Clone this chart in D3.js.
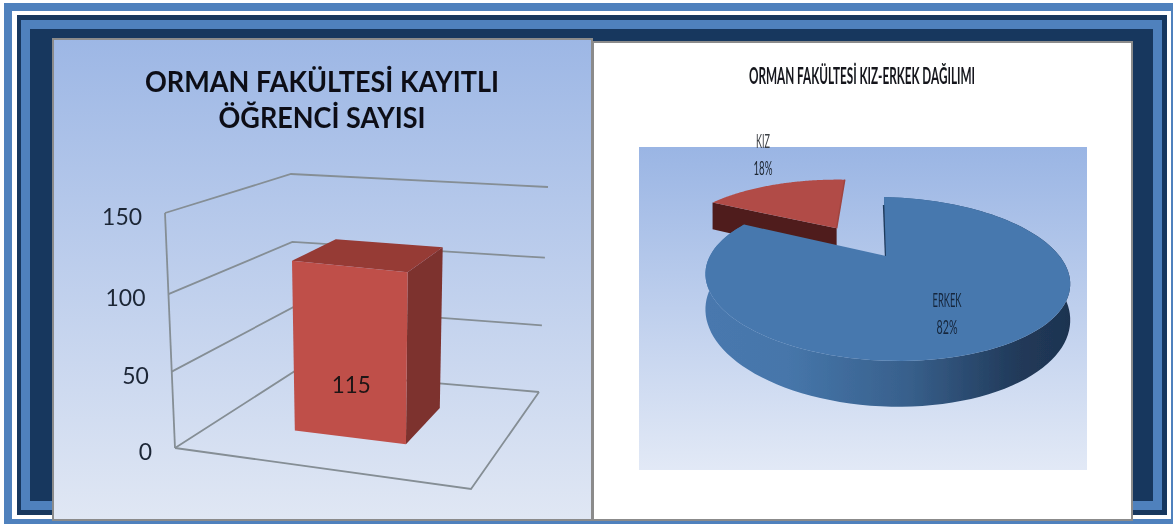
<!DOCTYPE html>
<html><head><meta charset="utf-8">
<style>html,body{margin:0;padding:0;background:#fff}svg{display:block}text{font-family:Lato,"Open Sans",sans-serif}</style>
<script src="https://cdn.jsdelivr.net/npm/d3@7"></script>
</head><body>
<script>
// ---- data ----
const barTitle = ["ORMAN FAKÜLTESİ KAYITLI", "ÖĞRENCİ SAYISI"];
const barCategories = ["Kayıtlı Öğrenci"];
const barSeries = ["Öğrenci Sayısı"];
const barValues = [115];
const yTicks = [0, 50, 100, 150];
const pieTitle = "ORMAN FAKÜLTESİ KIZ-ERKEK DAĞILIMI";
const pieLabels = ["ERKEK", "KIZ"];
const pieValues = [82, 18];

// ---- layout ----
const W = 1173, H = 525;
const svg = d3.select("body").append("svg").attr("width", W).attr("height", H);
const defs = svg.append("defs");
function vGrad(id, a, b) {
  const g = defs.append("linearGradient").attr("id", id).attr("x1", 0).attr("x2", 0).attr("y1", 0).attr("y2", 1);
  g.append("stop").attr("offset", 0).attr("stop-color", a);
  g.append("stop").attr("offset", 1).attr("stop-color", b);
}
vGrad("panelGrad", "#9db7e5", "#e0e7f4");
vGrad("plotGrad", "#9ab5e4", "#e2e9f6");
defs.append("filter").attr("id", "soft").append("feGaussianBlur").attr("stdDeviation", 0.4);
const side = defs.append("linearGradient").attr("id", "sideGrad").attr("gradientUnits", "userSpaceOnUse")
  .attr("x1", 707).attr("x2", 1071).attr("y1", 0).attr("y2", 0);
[[0, "#4878ae"], [0.22, "#4676aa"], [0.55, "#38608c"], [0.85, "#213a5a"], [1, "#1e3350"]].forEach(s =>
  side.append("stop").attr("offset", s[0]).attr("stop-color", s[1]));

// frame
const frame = [
  [4, 3, 1173, 524, "#4f81bd"], [12, 11, 1171, 519, "#ffffff"], [17, 15, 1167, 515, "#17375e"],
  [21, 20, 1162, 510, "#4f81bd"], [30, 29, 1153, 501, "#17375e"]
];
svg.append("g").selectAll("rect").data(frame).join("rect")
  .attr("x", d => d[0]).attr("y", d => d[1]).attr("width", d => d[2] - d[0]).attr("height", d => d[3] - d[1])
  .attr("fill", d => d[4]);

// panels
svg.append("rect").attr("x", 53).attr("y", 39).attr("width", 539).attr("height", 481)
  .attr("fill", "url(#panelGrad)").attr("stroke", "#8b8b8b").attr("stroke-width", 2);
svg.append("rect").attr("x", 593).attr("y", 42).attr("width", 539).attr("height", 478)
  .attr("fill", "#fff").attr("stroke", "#8b8b8b").attr("stroke-width", 2);
svg.append("rect").attr("x", 639).attr("y", 147).attr("width", 448).attr("height", 323).attr("fill", "url(#plotGrad)");

const poly = d3.line().curve(d3.curveLinearClosed);
const open = d3.line();

function txt(g, s, x, y, size, len, fill, weight, anchor) {
  return g.append("text").attr("x", x).attr("y", y).attr("font-size", size).attr("font-weight", weight || 400)
    .attr("fill", fill).attr("text-anchor", anchor || "middle")
    .attr("textLength", len).attr("lengthAdjust", "spacingAndGlyphs").text(s);
}

// ---- 3D column chart ----
const corners = {
  lo: { FL: [175, 448], FR: [471, 489], BL: [295, 371], BR: [539, 392] },
  hi: { FL: [165, 213], FR: [477, 247], BL: [291, 174], BR: [548, 187] }
};
const yT = d3.scaleLinear().domain(yTicks).range([0, 0.325, 0.655, 1]);
const uScale = d3.scaleBand().domain(barCategories).range([0, 1]).paddingInner(0).paddingOuter(0.75).align(0.467);
const dScale = d3.scaleBand().domain(barSeries).range([0, 1]).paddingInner(0).paddingOuter(0.75).align(0.583);
const mix = (a, b, t) => [a[0] + (b[0] - a[0]) * t, a[1] + (b[1] - a[1]) * t];
function plane(c, u, d) { return mix(mix(c.FL, c.FR, u), mix(c.BL, c.BR, u), d); }
function p3(u, d, v) { return mix(plane(corners.lo, u, d), plane(corners.hi, u, d), yT(v)); }

const gBar = svg.append("g").attr("filter", "url(#soft)");
const gridColor = "#858e95";
const gridWidth = 1.8;
const vMax = d3.max(yTicks);
gBar.selectAll(".grid").data(yTicks).join("path").attr("class", "grid")
  .attr("d", v => open([p3(0, 0, v), p3(0, 1, v), p3(1, 1, v)]))
  .attr("fill", "none").attr("stroke", gridColor).attr("stroke-width", gridWidth);
gBar.append("path").attr("d", open([p3(0, 0, 0), p3(0, 0, vMax)])).attr("fill", "none").attr("stroke", gridColor).attr("stroke-width", gridWidth);
gBar.append("path").attr("d", open([p3(0, 0, 0), p3(1, 0, 0), p3(1, 1, 0)])).attr("fill", "none").attr("stroke", gridColor).attr("stroke-width", gridWidth);

const u0 = uScale(barCategories[0]), u1 = u0 + uScale.bandwidth();
const d0 = dScale(barSeries[0]), d1 = d0 + dScale.bandwidth();
barValues.forEach(v => {
  gBar.append("path").attr("d", poly([p3(u1, d0, 0), p3(u1, d1, 0), p3(u1, d1, v), p3(u1, d0, v)])).attr("fill", "#7d302d");
  gBar.append("path").attr("d", poly([p3(u0, d0, v), p3(u1, d0, v), p3(u1, d1, v), p3(u0, d1, v)])).attr("fill", "#963a36");
  gBar.append("path").attr("d", poly([p3(u0, d0, 0), p3(u1, d0, 0), p3(u1, d0, v), p3(u0, d0, v)])).attr("fill", "#bf4f4a");
  const c = p3((u0 + u1) / 2, d0, v * 0.22);
  txt(gBar, String(v), c[0] + 1, 393, 24, 39, "#1f1414");
});
yTicks.forEach(v => {
  const p = p3(0, 0, v);
  txt(gBar, String(v), p[0] - 23, p[1] + 12, 23, String(v).length * 13.3, "#1c2636", 400, "end");
});
txt(gBar, barTitle[0], 322, 92, 28, 354, "#0a0f18", 700);
txt(gBar, barTitle[1], 322, 128, 28, 207, "#0a0f18", 700);

// ---- 3D pie chart ----
const gPie = svg.append("g").attr("filter", "url(#soft)");
txt(gPie, pieTitle, 862, 84, 22, 226, "#14161c", 700);

const P = { cx: 886, cy: 256, a: 175, b: 75.5, k: 0.28, q: 6, sh: 2, h: 33 };
function proj(px, py, lift) {
  const w = 1 - P.k * py;
  return [P.cx + P.a * px / w + P.q * py / w, P.cy + P.b * py / w + P.sh * px / w + (lift || 0) / w];
}
const explode = [[0, 0], [-0.3, -0.4]];
const arcs = d3.pie().sort(null).startAngle(0.02).endAngle(0.02 + 2 * Math.PI)(pieValues);
const slices = arcs.map((s, i) => {
  const [ox, oy] = explode[i];
  const n = 120;
  const angles = d3.range(n + 1).map(j => s.startAngle + (s.endAngle - s.startAngle) * j / n);
  const rim = lift => angles.map(t => proj(ox + Math.sin(t), oy - Math.cos(t), lift));
  return { i, apex: l => proj(ox, oy, l), rim };
});
const [erkek, kiz] = slices;

// KIZ: exploded slice, cut face first, then top
const kizRim = kiz.rim(0);
gPie.append("path").attr("d", poly([kizRim[0], kiz.apex(0), kiz.apex(P.h), kiz.rim(P.h)[0]])).attr("fill", "#4f1e1b");
gPie.append("path").attr("d", poly([kiz.apex(0), ...kizRim])).attr("fill", "#b14c46");
gPie.append("path").attr("d", open([kiz.apex(0), kizRim[kizRim.length - 1]])).attr("fill", "none").attr("stroke", "#a04440").attr("stroke-width", 1.5);

// ERKEK: wall, thin cut face, then top
const eTop = erkek.rim(0), eBottom = erkek.rim(P.h);
gPie.append("path").attr("d", poly([...eTop, ...eBottom.slice().reverse()])).attr("fill", "url(#sideGrad)");
gPie.append("path").attr("d", open([[eTop[0][0], eTop[0][1] + 8], erkek.apex(0)])).attr("fill", "none").attr("stroke", "#1f3a5c").attr("stroke-width", 2.4);
gPie.append("path").attr("d", poly([erkek.apex(0), ...eTop])).attr("fill", "#4778ae");

// labels
txt(gPie, pieLabels[1], 763, 148, 20, 14, "#3b3f45");
txt(gPie, pieValues[1] + "%", 763, 175, 19, 19, "#1c2530");
txt(gPie, pieLabels[0], 947, 307, 19, 29, "#16263c");
txt(gPie, pieValues[0] + "%", 947, 334, 19, 21, "#16263c");
</script>
</body></html>
